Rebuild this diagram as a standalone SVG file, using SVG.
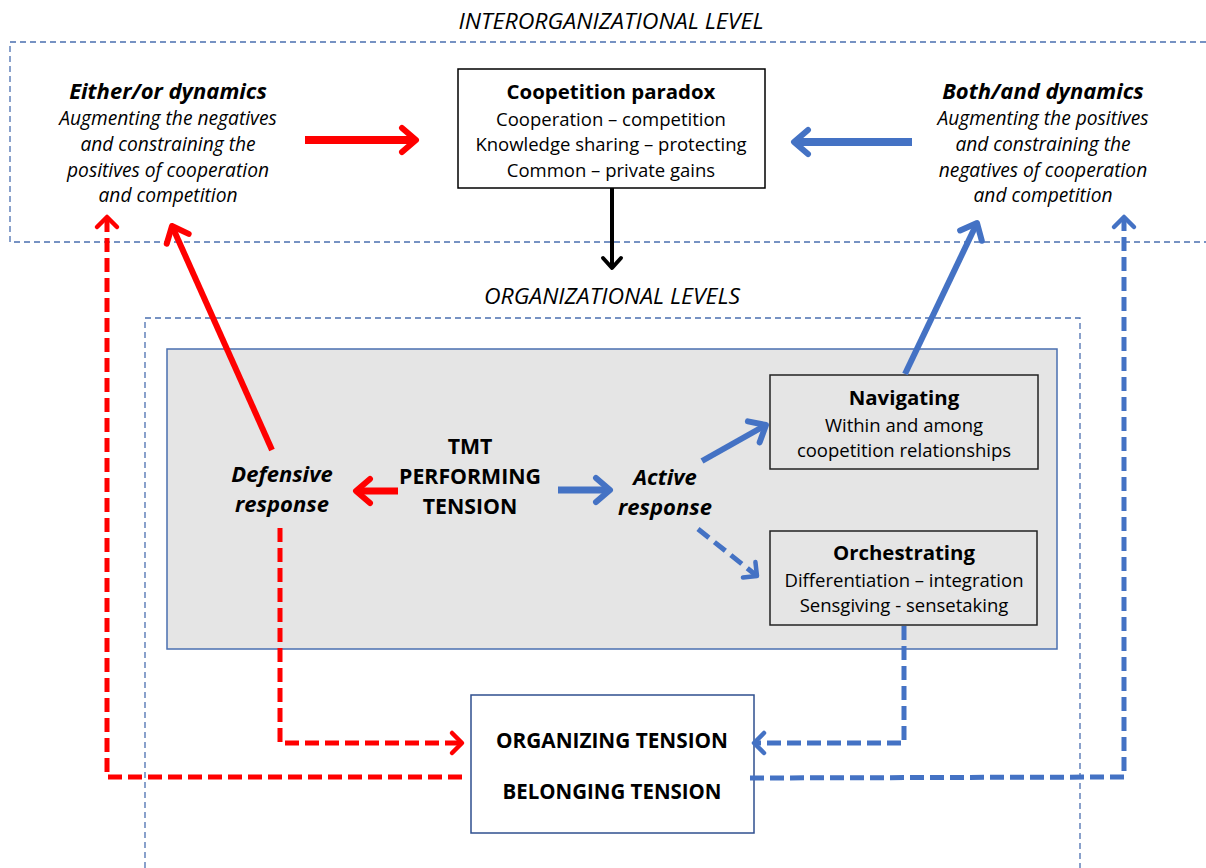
<svg xmlns="http://www.w3.org/2000/svg" width="1206" height="868" viewBox="0 0 1206 868">
<style>
text{font-family:"Open Sans","Liberation Sans",sans-serif;fill:#000;text-anchor:middle}
.lvl{font-size:22px;font-style:italic}
.t{font-size:20.4px;font-weight:bold}
.s{font-size:18.5px}
.i{font-size:19.2px;font-style:italic}
.bi{font-size:22px;font-weight:bold;font-style:italic}
.b{font-size:21.3px;font-weight:bold}
.frame{fill:none;stroke:#4a6fb0;stroke-width:1.3;stroke-dasharray:6,4}
.red{stroke:#ff0000;fill:none}
.blue{stroke:#4472c4;fill:none}
</style>
<defs>
<marker id="hr" markerUnits="userSpaceOnUse" viewBox="-20 -16 24 32" markerWidth="24" markerHeight="32" refX="0" refY="0" orient="auto"><path d="M-14,-12 L0,0 L-14,12" fill="none" stroke="#ff0000" stroke-width="6" stroke-linecap="round" stroke-linejoin="round"/></marker>
<marker id="hb" markerUnits="userSpaceOnUse" viewBox="-20 -16 24 32" markerWidth="24" markerHeight="32" refX="0" refY="0" orient="auto"><path d="M-14,-12 L0,0 L-14,12" fill="none" stroke="#4472c4" stroke-width="6" stroke-linecap="round" stroke-linejoin="round"/></marker>
<marker id="hk" markerUnits="userSpaceOnUse" viewBox="-20 -16 24 32" markerWidth="24" markerHeight="32" refX="0" refY="0" orient="auto"><path d="M-10,-9 L0,0 L-10,9" fill="none" stroke="#000" stroke-width="4" stroke-linecap="round" stroke-linejoin="round"/></marker>
<marker id="hrs" markerUnits="userSpaceOnUse" viewBox="-20 -16 24 32" markerWidth="24" markerHeight="32" refX="0" refY="0" orient="auto"><path d="M-10,-10 L0,0 L-10,10" fill="none" stroke="#ff0000" stroke-width="4.5" stroke-linecap="round" stroke-linejoin="round"/></marker>
<marker id="hbs" markerUnits="userSpaceOnUse" viewBox="-20 -16 24 32" markerWidth="24" markerHeight="32" refX="0" refY="0" orient="auto"><path d="M-10,-10 L0,0 L-10,10" fill="none" stroke="#4472c4" stroke-width="4.5" stroke-linecap="round" stroke-linejoin="round"/></marker>
</defs>

<g id="frames">
<text class="lvl" x="611" y="29" textLength="305" lengthAdjust="spacingAndGlyphs">INTERORGANIZATIONAL LEVEL</text>
<rect class="frame" x="10" y="42" width="1210" height="200"/>
<text class="lvl" x="612" y="304" textLength="256" lengthAdjust="spacingAndGlyphs">ORGANIZATIONAL LEVELS</text>
<rect class="frame" x="145" y="318" width="935" height="570"/>
</g>

<g id="gray-panel">
<rect x="167" y="349" width="890" height="300" fill="#e5e5e5" stroke="#4a6fb0" stroke-width="1.5"/>
</g>

<g id="either-or">
<text class="bi" x="168" y="99">Either/or dynamics</text>
<text class="i" x="168" y="125">Augmenting the negatives</text>
<text class="i" x="168" y="151">and constraining the</text>
<text class="i" x="168" y="177">positives of cooperation</text>
<text class="i" x="168" y="202">and competition</text>
</g>

<g id="both-and">
<text class="bi" x="1043" y="99">Both/and dynamics</text>
<text class="i" x="1043" y="125">Augmenting the positives</text>
<text class="i" x="1043" y="151">and constraining the</text>
<text class="i" x="1043" y="177">negatives of cooperation</text>
<text class="i" x="1043" y="202">and competition</text>
</g>

<g id="coopetition-paradox">
<rect x="458" y="69" width="307" height="119" fill="#fff" stroke="#000" stroke-width="1.5"/>
<text class="t" x="611" y="99">Coopetition paradox</text>
<text class="s" x="611" y="126">Cooperation – competition</text>
<text class="s" x="611" y="151">Knowledge sharing – protecting</text>
<text class="s" x="611" y="177">Common – private gains</text>
</g>

<g id="tmt">
<text class="b" x="470" y="454">TMT</text>
<text class="b" x="470" y="484">PERFORMING</text>
<text class="b" x="470" y="514">TENSION</text>
</g>

<g id="defensive">
<text class="bi" x="282" y="482">Defensive</text>
<text class="bi" x="282" y="512">response</text>
</g>

<g id="active">
<text class="bi" x="665" y="485">Active</text>
<text class="bi" x="665" y="515">response</text>
</g>

<g id="navigating">
<rect x="770" y="375" width="268" height="94" fill="#e5e5e5" stroke="#222" stroke-width="1.5"/>
<text class="t" x="904" y="405">Navigating</text>
<text class="s" x="904" y="432">Within and among</text>
<text class="s" x="904" y="457">coopetition relationships</text>
</g>

<g id="orchestrating">
<rect x="770" y="531" width="267" height="94" fill="#e5e5e5" stroke="#222" stroke-width="1.5"/>
<text class="t" x="904" y="560">Orchestrating</text>
<text class="s" x="904" y="587">Differentiation – integration</text>
<text class="s" x="904" y="612">Sensgiving - sensetaking</text>
</g>

<g id="tensions">
<rect x="471" y="695" width="283" height="138" fill="#fff" stroke="#2f4f8f" stroke-width="1.5"/>
<text class="b" x="612" y="748" textLength="232" lengthAdjust="spacingAndGlyphs">ORGANIZING TENSION</text>
<text class="b" x="612" y="799" textLength="219" lengthAdjust="spacingAndGlyphs">BELONGING TENSION</text>
</g>

<g id="connectors">
<line x1="305" y1="140" x2="416" y2="140" class="red" stroke-width="8" marker-end="url(#hr)"/>
<line x1="912" y1="142" x2="794" y2="142" class="blue" stroke-width="8" marker-end="url(#hb)"/>
<line x1="612" y1="188" x2="612" y2="268" stroke="#000" stroke-width="4" marker-end="url(#hk)"/>
<line x1="398" y1="491" x2="356" y2="491" class="red" stroke-width="7" marker-end="url(#hr)"/>
<line x1="558" y1="490" x2="610" y2="490" class="blue" stroke-width="7" marker-end="url(#hb)"/>
<line x1="272" y1="450" x2="172" y2="226" class="red" stroke-width="6" marker-end="url(#hr)"/>
<line x1="905" y1="374" x2="977" y2="223" class="blue" stroke-width="6" marker-end="url(#hb)"/>
<line x1="702" y1="461" x2="766" y2="425" class="blue" stroke-width="6" marker-end="url(#hb)"/>
<line x1="698" y1="529" x2="757" y2="576" class="blue" stroke-width="5" stroke-dasharray="14,7" marker-end="url(#hbs)"/>
<polyline points="280,528 280,743 462,743" class="red" stroke-width="5" stroke-dasharray="14,6" marker-end="url(#hrs)"/>
<polyline points="904,626 904,743 754,743" class="blue" stroke-width="5" stroke-dasharray="14,6" marker-end="url(#hbs)"/>
<polyline points="462,777 107,777 107,217" class="red" stroke-width="5" stroke-dasharray="14,6" marker-end="url(#hrs)"/>
<polyline points="750,778 1124,777 1124,217" class="blue" stroke-width="5" stroke-dasharray="14,6" marker-end="url(#hbs)"/>
</g>
</svg>
